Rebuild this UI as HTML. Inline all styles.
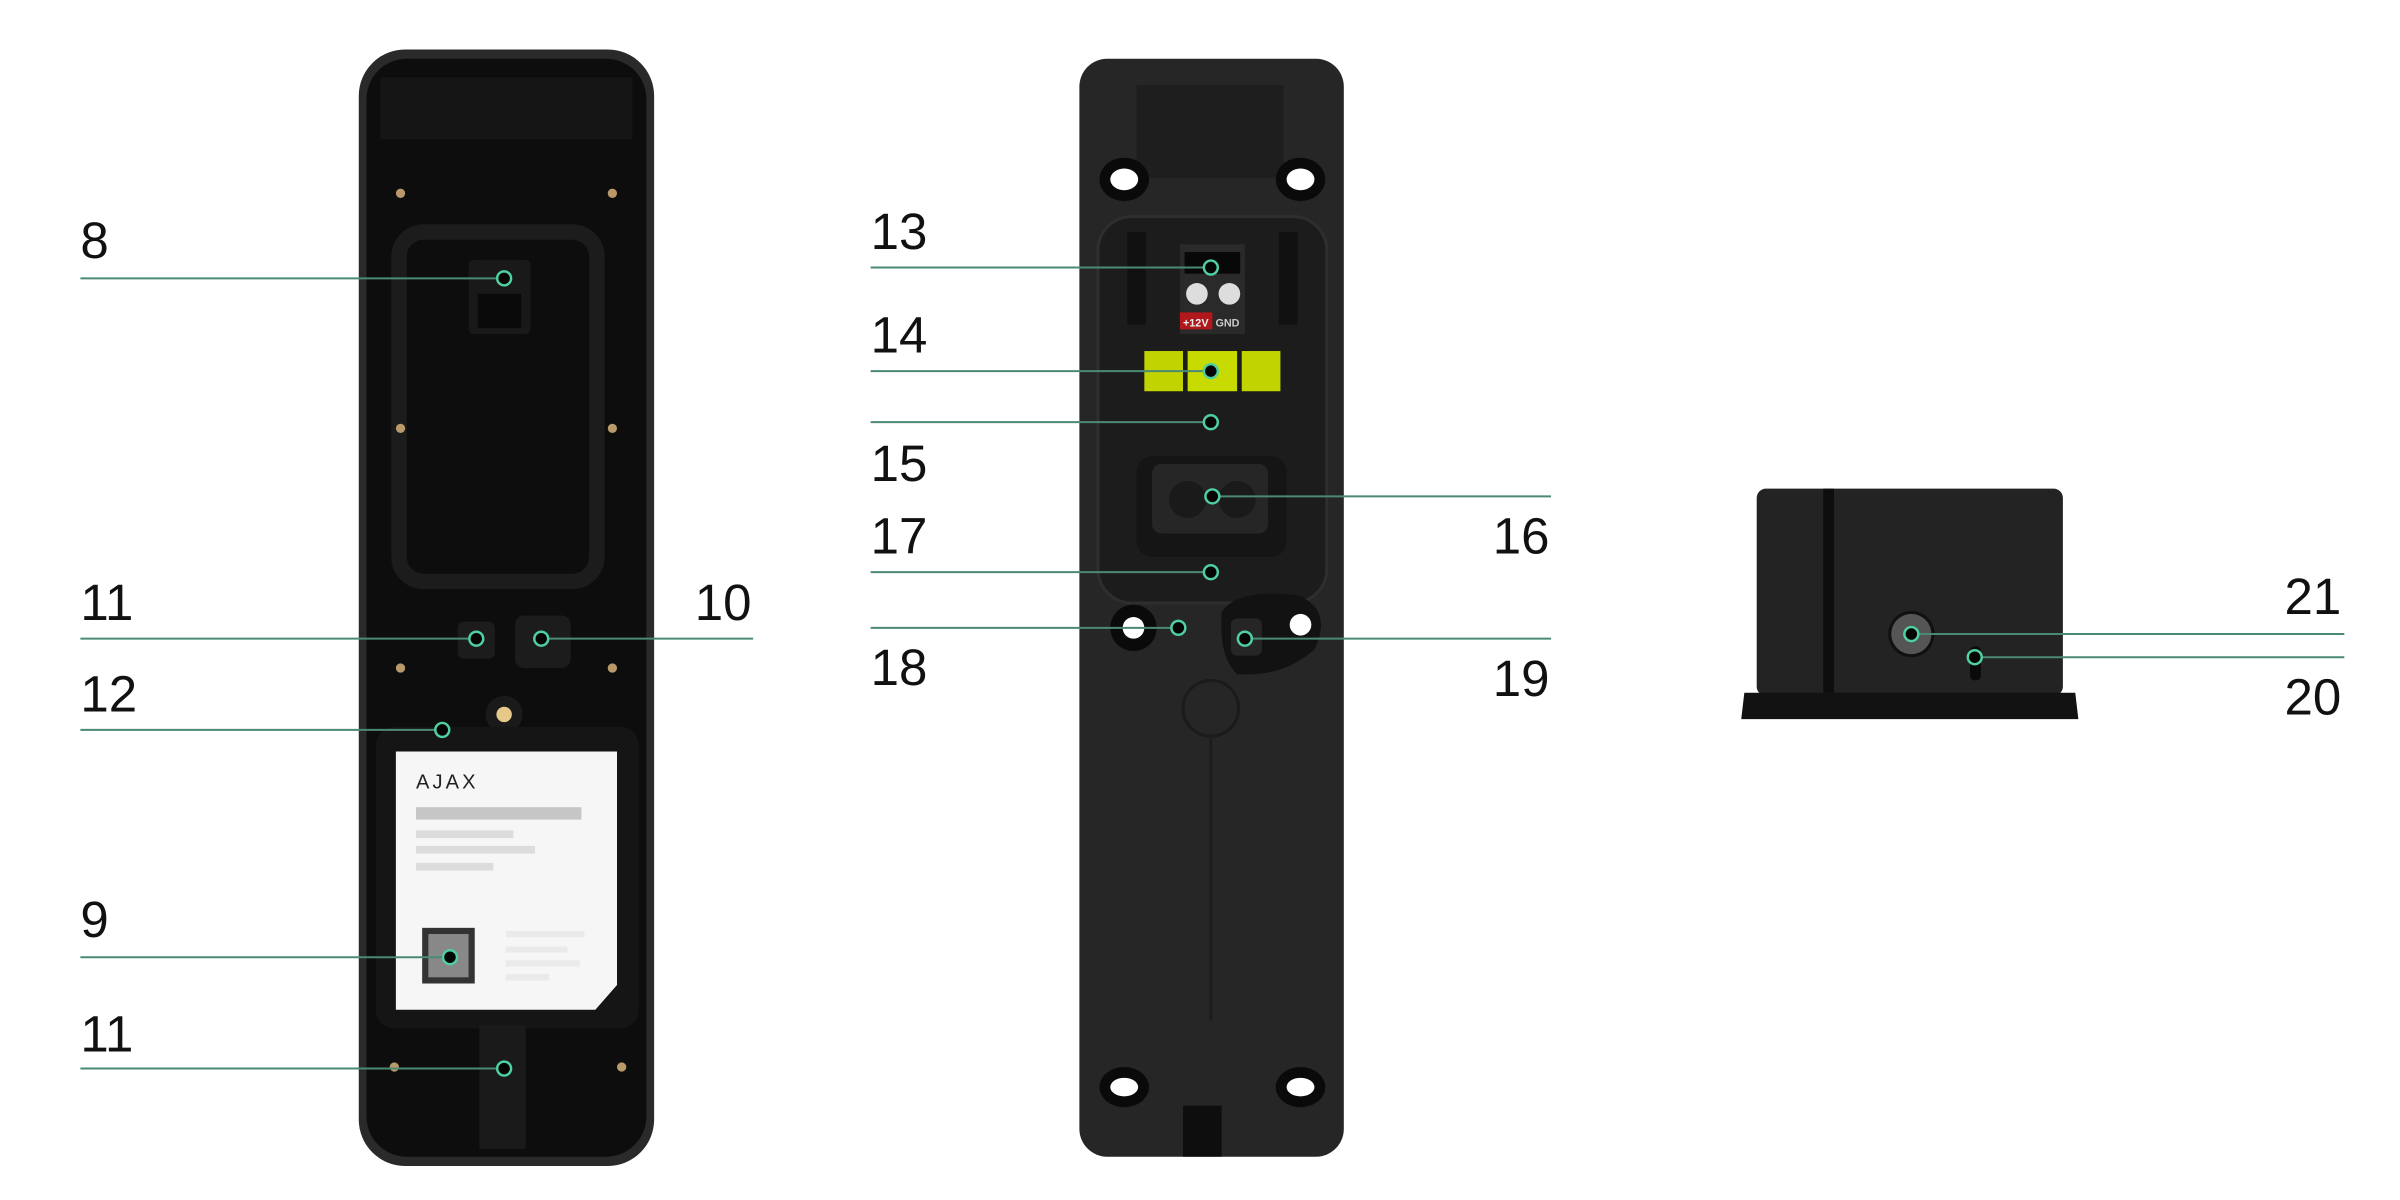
<!DOCTYPE html>
<html><head><meta charset="utf-8"><style>
html,body{margin:0;padding:0;background:#fff;}
svg{display:block;}
text{font-family:"Liberation Sans",sans-serif;font-size:33px;fill:#111;}
</style></head><body>
<svg width="2400" height="1200" viewBox="0 0 1552 776" xmlns="http://www.w3.org/2000/svg">

<!-- LEFT DEVICE -->
<rect x="232" y="32" width="191" height="722" rx="30" fill="#2a2a2a"/>
<rect x="237" y="38" width="181" height="710" rx="26" fill="#0d0d0d"/>
<rect x="246" y="50" width="163" height="40" fill="#151515"/>
<rect x="258" y="150" width="128" height="226" rx="16" fill="none" stroke="#1c1c1c" stroke-width="10"/>
<rect x="303" y="168" width="40" height="48" rx="3" fill="#191919"/>
<rect x="309" y="190" width="28" height="22" fill="#0a0a0a"/>
<g fill="#b89a6a">
<circle cx="259" cy="125" r="3"/><circle cx="396" cy="125" r="3"/>
<circle cx="259" cy="277" r="3"/><circle cx="396" cy="277" r="3"/>
<circle cx="259" cy="432" r="3"/><circle cx="396" cy="432" r="3"/>
<circle cx="255" cy="690" r="3"/><circle cx="402" cy="690" r="3"/>
</g>
<rect x="296" y="402" width="24" height="24" rx="4" fill="#1c1c1c"/>
<rect x="333" y="398" width="36" height="34" rx="6" fill="#1c1c1c"/>
<circle cx="326" cy="462" r="12" fill="#1a1a1a"/><circle cx="326" cy="462" r="5" fill="#e6c98a"/>
<rect x="243" y="470" width="170" height="195" rx="12" fill="#151515"/>
<path d="M256 486 H399 V637 L385 653 H256 Z" fill="#f6f6f6"/>
<text x="269" y="510" style="font-size:13px;letter-spacing:2px;fill:#222">AJAX</text>
<rect x="269" y="522" width="107" height="8" fill="#c6c6c6"/>
<rect x="269" y="537" width="63" height="5" fill="#dcdcdc"/>
<rect x="269" y="547" width="77" height="5" fill="#dcdcdc"/>
<rect x="269" y="558" width="50" height="5" fill="#dcdcdc"/>
<rect x="273" y="600" width="34" height="36" fill="#333"/>
<rect x="277" y="604" width="26" height="28" fill="#888"/>
<g fill="#eaeaea"><rect x="327" y="602" width="51" height="4"/><rect x="327" y="612" width="40" height="4"/><rect x="327" y="621" width="48" height="4"/><rect x="327" y="630" width="28" height="4"/></g>
<rect x="310" y="663" width="30" height="80" fill="#1a1a1a"/>

<!-- MIDDLE DEVICE -->
<rect x="698" y="38" width="171" height="710" rx="18" fill="#262626"/>
<rect x="735" y="55" width="95" height="60" fill="#1e1e1e"/>
<ellipse cx="727" cy="116" rx="16" ry="14" fill="#0a0a0a"/><ellipse cx="727" cy="116" rx="9" ry="7" fill="#fff"/>
<ellipse cx="841" cy="116" rx="16" ry="14" fill="#0a0a0a"/><ellipse cx="841" cy="116" rx="9" ry="7" fill="#fff"/>
<rect x="710" y="140" width="148" height="250" rx="22" fill="#1c1c1c" stroke="#2e2e2e" stroke-width="2"/>
<rect x="729" y="150" width="12" height="60" fill="#111"/><rect x="827" y="150" width="12" height="60" fill="#111"/>
<rect x="763" y="158" width="42" height="58" fill="#2a2a2a"/>
<rect x="766" y="163" width="36" height="14" fill="#080808"/>
<circle cx="774" cy="190" r="7" fill="#ddd"/><circle cx="795" cy="190" r="7" fill="#ddd"/>
<rect x="763" y="202" width="21" height="11" fill="#b0181c"/>
<text x="765" y="211" style="font-size:7px;fill:#eee;font-weight:bold">+12V</text>
<text x="786" y="211" style="font-size:7px;fill:#ccc;font-weight:bold">GND</text>
<rect x="740" y="227" width="25" height="26" fill="#c2d400"/>
<rect x="768" y="227" width="32" height="26" fill="#c8db00"/>
<rect x="803" y="227" width="25" height="26" fill="#c2d400"/>
<rect x="735" y="295" width="97" height="65" rx="10" fill="#151515"/>
<rect x="745" y="300" width="75" height="45" rx="6" fill="#262626"/>
<circle cx="768" cy="323" r="12" fill="#1a1a1a"/><circle cx="800" cy="323" r="12" fill="#1a1a1a"/>
<circle cx="733" cy="406" r="15" fill="#0a0a0a"/><circle cx="733" cy="406" r="7" fill="#fff"/>
<path d="M790 396 Q800 380 840 385 Q862 395 850 420 Q830 438 800 436 Q788 425 790 396Z" fill="#121212"/>
<circle cx="841" cy="404" r="7" fill="#fff"/>
<rect x="796" y="400" width="20" height="24" rx="4" fill="#262626"/>
<circle cx="783" cy="458" r="18" fill="none" stroke="#1b1b1b" stroke-width="2"/>
<line x1="783" y1="475" x2="783" y2="660" stroke="#1d1d1d" stroke-width="2"/>
<ellipse cx="727" cy="703" rx="16" ry="13" fill="#0a0a0a"/><ellipse cx="727" cy="703" rx="9" ry="6" fill="#fff"/>
<ellipse cx="841" cy="703" rx="16" ry="13" fill="#0a0a0a"/><ellipse cx="841" cy="703" rx="9" ry="6" fill="#fff"/>
<rect x="765" y="715" width="25" height="33" fill="#0e0e0e"/>

<!-- RIGHT DEVICE -->
<rect x="1136" y="316" width="198" height="134" rx="6" fill="#232323"/>
<rect x="1179" y="316" width="7" height="132" fill="#0e0e0e"/>
<path d="M1128 448 H1342 L1344 465 H1126 Z" fill="#121212"/>
<circle cx="1236" cy="410" r="15" fill="#111"/><circle cx="1236" cy="410" r="13" fill="#555"/>
<rect x="1274" y="418" width="7" height="22" rx="3" fill="#0a0a0a"/>

<!-- CONNECTORS -->
<g stroke-width="1.3" stroke="#4a8a74">
<line x1="52" y1="180" x2="326" y2="180"/>
<line x1="52" y1="413" x2="308" y2="413"/>
<line x1="350" y1="413" x2="487" y2="413"/>
<line x1="52" y1="472" x2="286" y2="472"/>
<line x1="52" y1="619" x2="291" y2="619"/>
<line x1="52" y1="691" x2="326" y2="691"/>
<line x1="563" y1="173" x2="783" y2="173"/>
<line x1="563" y1="240" x2="783" y2="240"/>
<line x1="563" y1="273" x2="783" y2="273"/>
<line x1="563" y1="370" x2="783" y2="370"/>
<line x1="563" y1="406" x2="762" y2="406"/>
<line x1="784" y1="321" x2="1003" y2="321"/>
<line x1="805" y1="413" x2="1003" y2="413"/>
<line x1="1236" y1="410" x2="1516" y2="410"/>
<line x1="1277" y1="425" x2="1516" y2="425"/>
</g>
<g fill="#050505" stroke="#4fd0a0" stroke-width="1.6">
<circle cx="326" cy="180" r="4.5"/><circle cx="308" cy="413" r="4.5"/><circle cx="350" cy="413" r="4.5"/>
<circle cx="286" cy="472" r="4.5"/><circle cx="291" cy="619" r="4.5"/><circle cx="326" cy="691" r="4.5"/>
<circle cx="783" cy="173" r="4.5"/><circle cx="783" cy="240" r="4.5"/><circle cx="783" cy="273" r="4.5"/>
<circle cx="784" cy="321" r="4.5"/><circle cx="783" cy="370" r="4.5"/><circle cx="762" cy="406" r="4.5"/>
<circle cx="805" cy="413" r="4.5"/><circle cx="1236" cy="410" r="4.5"/><circle cx="1277" cy="425" r="4.5"/>
</g>

<!-- LABELS -->
<text x="52" y="167">8</text>
<text x="52" y="401">11</text>
<text x="486" y="401" text-anchor="end">10</text>
<text x="52" y="460">12</text>
<text x="52" y="606">9</text>
<text x="52" y="680">11</text>
<text x="563" y="161">13</text>
<text x="563" y="228">14</text>
<text x="563" y="311">15</text>
<text x="563" y="358">17</text>
<text x="563" y="443">18</text>
<text x="1002" y="358" text-anchor="end">16</text>
<text x="1002" y="450" text-anchor="end">19</text>
<text x="1514" y="397" text-anchor="end">21</text>
<text x="1514" y="462" text-anchor="end">20</text>
</svg>
</body></html>
